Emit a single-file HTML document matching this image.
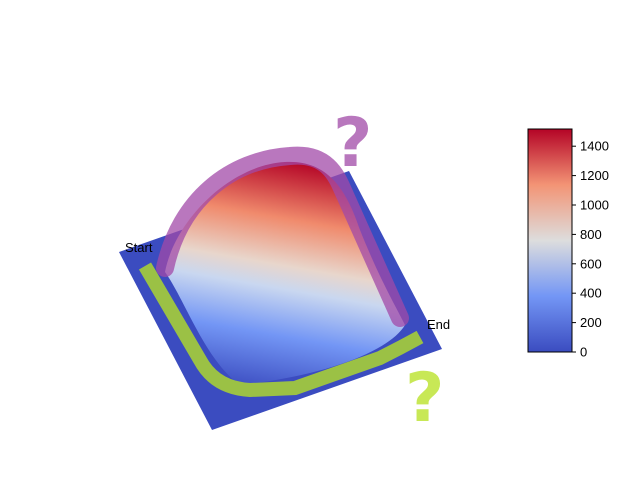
<!DOCTYPE html>
<html><head><meta charset="utf-8"><style>
body{margin:0;background:#fff;font-family:"Liberation Sans",sans-serif}
</style></head><body>
<svg width="640" height="480" xmlns="http://www.w3.org/2000/svg">
<defs>
<linearGradient id="cw" x1="0" y1="1" x2="0" y2="0">
<stop offset="0" stop-color="#3b4cc0"/><stop offset="0.25" stop-color="#7396f5"/>
<stop offset="0.5" stop-color="#dddddd"/><stop offset="0.75" stop-color="#f39475"/>
<stop offset="1" stop-color="#b40426"/></linearGradient>
<linearGradient id="dome" gradientUnits="userSpaceOnUse" x1="250" y1="390" x2="290" y2="160">
<stop offset="0" stop-color="#3b4cc0"/><stop offset="0.25" stop-color="#7396f5"/>
<stop offset="0.45" stop-color="#c9d7f0"/><stop offset="0.55" stop-color="#e8d6cc"/>
<stop offset="0.75" stop-color="#f08a6c"/><stop offset="1" stop-color="#b40426"/></linearGradient>
</defs>
<polygon points="119,252 349,171 442,349 212,430" fill="#3b4cc0"/>
<path d="M165,272 C175,220 230,165 285,162 C325,160 345,185 360,230 C380,280 395,305 405,325 C390,350 330,375 240,385 C205,360 185,300 165,272 Z" fill="url(#dome)"/>
<path d="M165,268 C180,200 230,160 290,156 C330,152 338,180 345,195 L400,318" fill="none" stroke="#a24aa8" stroke-opacity="0.75" stroke-width="18" stroke-linecap="round"/>
<path d="M145,266 L200,360 Q215,388 250,390 L295,388 L380,358 Q400,348 420,337" fill="none" stroke="#9bc145" stroke-width="14"/>
<text x="333" y="166" font-size="68" font-weight="bold" fill="#b877bd" font-family="DejaVu Sans, sans-serif">?</text>
<text x="405" y="421" font-size="68" font-weight="bold" fill="#c8e856" font-family="DejaVu Sans, sans-serif">?</text>
<text x="125" y="252" font-size="13">Start</text>
<text x="427" y="329" font-size="13">End</text>
<g id="cb">
<rect x="528" y="129" width="44" height="223" fill="url(#cw)" stroke="#000" stroke-width="1"/>
</g>
</svg>
<script>
const cbTicks=[0,200,400,600,800,1000,1200,1400];
const cbMin=0, cbMax=1517;
const g=document.getElementById('cb');
const y=v=>352-(v-cbMin)/(cbMax-cbMin)*223;
cbTicks.forEach(t=>{
 const l=document.createElementNS('http://www.w3.org/2000/svg','line');
 
 
 l.setAttribute('x1',572);l.setAttribute('x2',576);l.setAttribute('y1',y(t));l.setAttribute('y2',y(t));l.setAttribute('stroke','#000');
 g.appendChild(l);
 const tx=document.createElementNS('http://www.w3.org/2000/svg','text');
 
 
 tx.setAttribute('x',580);tx.setAttribute('y',y(t)+4.5);tx.setAttribute('font-size','13');
 tx.textContent=t;g.appendChild(tx);
});
</script>
</body></html>
